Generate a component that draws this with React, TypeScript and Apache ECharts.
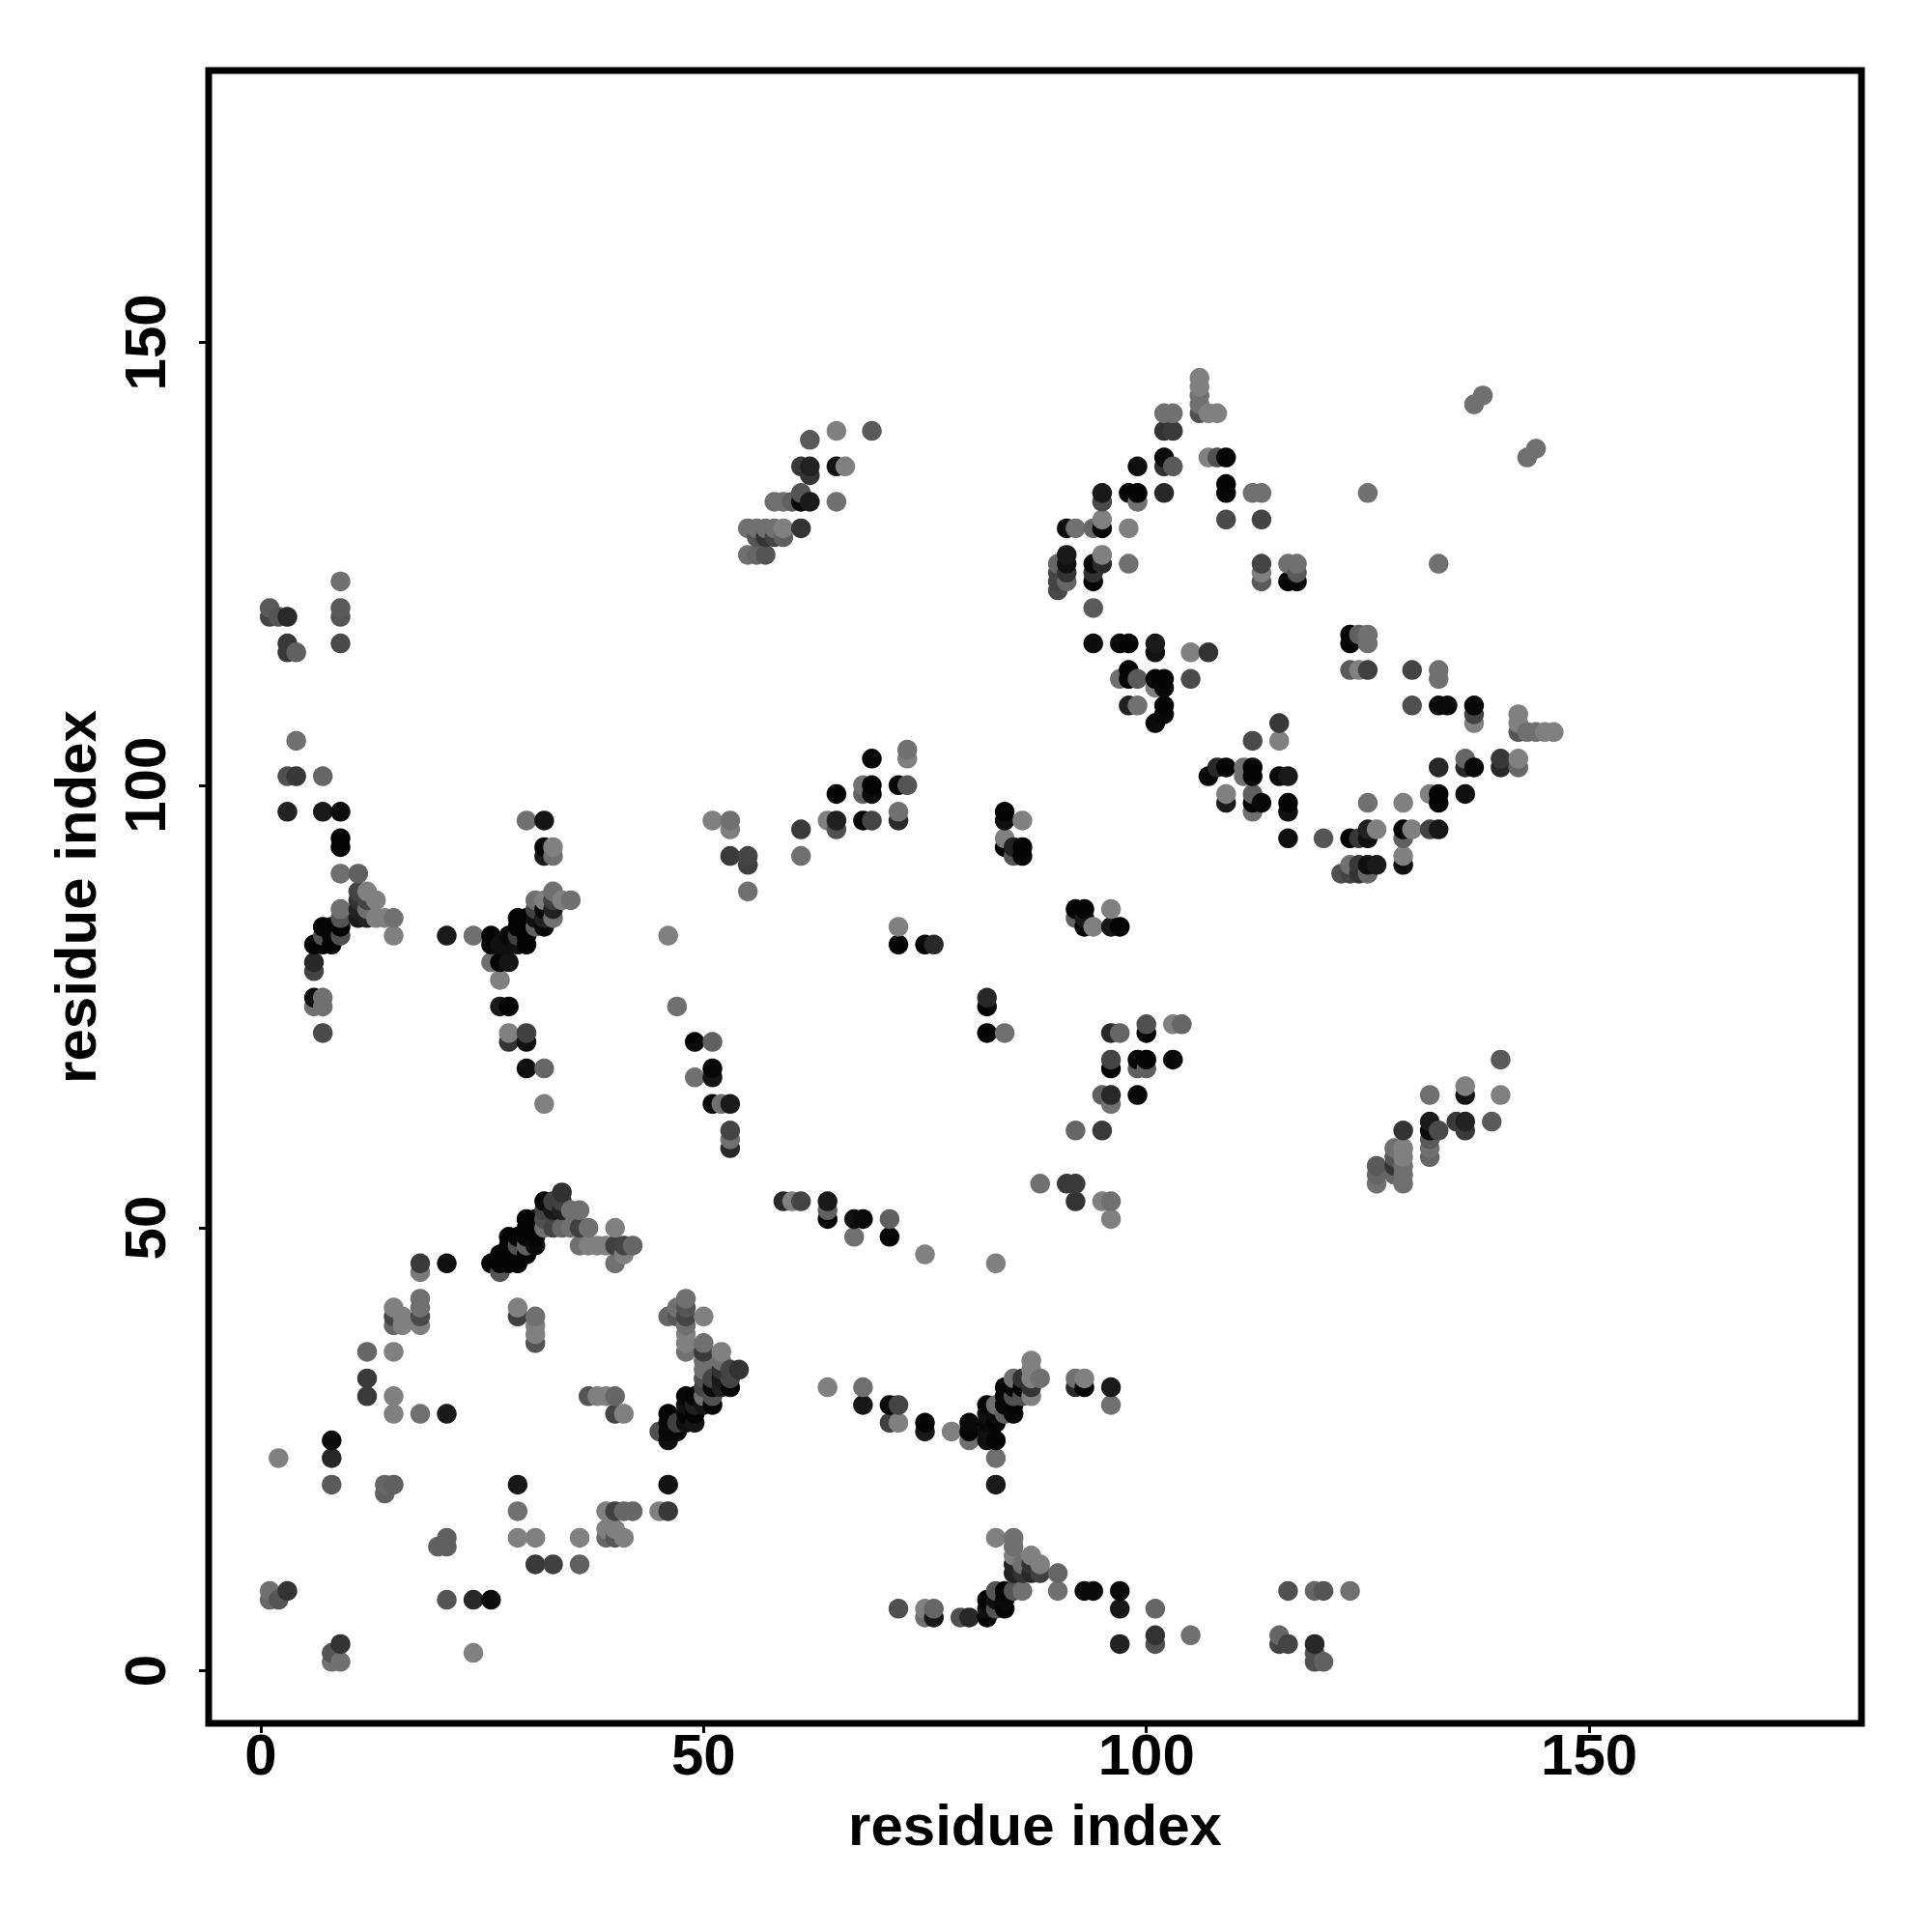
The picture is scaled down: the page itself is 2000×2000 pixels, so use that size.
import React, { useEffect, useRef } from "react";
import * as echarts from "echarts";

type P = [number, number, number];

const xTicks = [0, 50, 100, 150];
const yTicks = [0, 50, 100, 150];
const xTitle = "residue index";
const yTitle = "residue index";

const lowerLeft: P[] = [
  [9,3,0x33],[8,2,0x55],[8,1,0x70],[9,1,0x70],[24,2,0x80],[1,9,0x70],[1,8,0x66],[2,8,0x55],[3,9,0x33],
  [21,8,0x55],[24,8,0x28],[26,8,0x0c],[21,15,0x60],[20,14,0x60],[21,14,0x60],[29,15,0x80],[31,15,0x80],[36,15,0x80],
  [31,12,0x3a],[33,12,0x40],[36,12,0x60],[29,18,0x70],[29,21,0x18],[39,16,0x80],[40,16,0x80],[39,15,0x66],[40,15,0x55],[41,15,0x80],
  [39,18,0x80],[40,18,0x40],[41,18,0x66],[42,18,0x66],[45,18,0x80],[46,18,0x38],[46,21,0x12],[8,26,0x0c],[8,24,0x28],[8,21,0x5a],[2,24,0x80],
  [14,21,0x66],[15,21,0x60],[14,20,0x60],[12,36,0x66],[15,36,0x80],[12,33,0x3a],[12,31,0x3a],[15,31,0x80],[15,29,0x80],[18,29,0x70],[21,29,0x1a],
  [15,41,0x80],[15,40,0x44],[15,39,0x66],[16,40,0x80],[16,39,0x80],[18,42,0x70],[18,41,0x70],[18,40,0x4a],[18,39,0x80],[18,45,0x7a],[18,46,0x3a],[21,46,0x10],
  [29,41,0x80],[29,40,0x40],[31,40,0x70],[31,39,0x80],[31,38,0x80],[31,37,0x55],[27,45,0x55],
  [37,31,0x55],[38,31,0x80],[39,31,0x80],[40,31,0x66],[40,29,0x44],[41,29,0x80],[40,46,0x70],[41,47,0x80],
];

const diagonalA: P[] = [
  [45,27,0x50],[46,29,0x05],[46,28,0x08],[46,27,0x08],[46,26,0x10],[47,28,0x40],[47,27,0x08],[48,31,0x08],[48,30,0x10],[48,29,0x05],[48,28,0x10],
  [49,31,0x05],[49,30,0x20],[49,29,0x05],[49,28,0x15],[50,32,0x44],[50,31,0x70],[50,30,0x15],[51,33,0x44],[51,32,0x0a],[51,31,0x50],[51,30,0x05],
  [52,34,0x33],[52,33,0x18],[52,32,0x20],[53,34,0x44],[53,33,0x44],[53,32,0x05],[54,34,0x33],
  [46,40,0x66],[47,41,0x70],[47,40,0x55],[48,42,0x70],[48,41,0x55],[48,40,0x44],[48,39,0x70],[48,38,0x80],[48,37,0x80],[48,36,0x70],[50,40,0x80],
  [50,37,0x70],[50,36,0x3a],[50,35,0x70],[50,34,0x70],[50,33,0x50],[52,36,0x80],[52,35,0x70],
];

const lowerMiddle: P[] = [
  [88,55,0x70],[91,55,0x3a],[92,55,0x3a],[92,53,0x33],[95,53,0x80],[96,53,0x70],[96,51,0x80],
  [59,53,0x28],[60,53,0x80],[61,53,0x44],[64,53,0x1a],[64,52,0x60],[64,51,0x05],[67,51,0x10],[68,51,0x0a],[71,51,0x60],[67,49,0x70],[71,49,0x05],[75,47,0x80],[83,46,0x80],
  [64,32,0x80],[68,32,0x70],[68,30,0x18],[71,30,0x0a],[72,30,0x44],[71,28,0x40],[72,28,0x80],[75,28,0x05],[75,27,0x1a],[78,27,0x80],[80,28,0x0a],[80,27,0x05],[80,26,0x70],
  [82,30,0x05],[82,29,0x10],[82,28,0x0a],[82,27,0x10],[82,26,0x10],[83,26,0x05],[83,28,0x05],[83,30,0x70],[83,29,0x0a],[84,32,0x08],[84,31,0x08],[84,30,0x08],[84,29,0x60],
  [85,29,0x0a],[85,30,0x05],[85,31,0x50],[85,32,0x08],[85,33,0x70],[86,33,0x33],[86,32,0x05],[86,31,0x50],[87,35,0x80],[87,34,0x80],[87,33,0x80],[87,32,0x33],[87,31,0x80],[88,33,0x70],
  [92,33,0x70],[93,33,0x80],[92,32,0x28],[93,32,0x05],[96,32,0x1a],[96,30,0x70],[83,24,0x70],[83,21,0x1a],
  [83,15,0x80],[85,15,0x70],[85,14,0x70],[85,13,0x80],[85,12,0x22],[85,11,0x20],[86,12,0x70],[86,11,0x33],[87,13,0x80],[87,12,0x33],[87,11,0x28],[88,12,0x80],[88,11,0x40],[90,11,0x66],[90,9,0x70],
  [86,9,0x70],[85,9,0x55],[84,9,0x05],[83,9,0x55],[82,8,0x05],[83,8,0x10],[84,8,0x0a],[84,7,0x05],[83,7,0x55],[82,7,0x10],[82,6,0x05],[80,6,0x28],[79,6,0x50],
  [76,7,0x66],[75,7,0x80],[75,6,0x70],[76,6,0x18],[72,7,0x50],[93,9,0x0a],[94,9,0x0a],
];

const lowerRight: P[] = [
  [97,9,0x0a],[97,7,0x18],[101,7,0x66],[97,3,0x22],[101,4,0x33],[101,3,0x50],[105,4,0x70],[116,9,0x50],[119,9,0x66],[120,9,0x55],[123,9,0x70],
  [115,4,0x66],[115,3,0x44],[116,3,0x44],[119,3,0x28],[119,2,0x50],[119,1,0x50],[120,1,0x60],
];

const leftBand: P[] = [
  [9,94,0x05],[9,93,0x05],[9,90,0x70],[11,90,0x60],[11,88,0x44],[12,88,0x80],[13,87,0x80],[11,87,0x33],[12,87,0x44],[11,86,0x22],[12,86,0x70],[9,86,0x70],[9,85,0x55],[11,85,0x1a],[12,85,0x22],[13,85,0x80],[14,85,0x80],[15,85,0x70],[15,83,0x80],
  [9,84,0x05],[8,84,0x05],[7,84,0x05],[7,83,0x50],[8,83,0x05],[9,83,0x50],[6,82,0x05],[7,82,0x05],[8,82,0x05],[6,80,0x28],[6,79,0x44],[6,76,0x10],[7,76,0x70],[6,75,0x70],[7,75,0x70],[7,72,0x4a],
  [21,83,0x1a],[24,83,0x70],[26,83,0x05],[26,82,0x08],[27,82,0x10],[28,83,0x08],[28,82,0x10],[29,83,0x40],[29,82,0x10],[30,82,0x05],[29,85,0x05],[30,85,0x05],[29,84,0x05],[30,84,0x05],[30,83,0x05],
  [26,80,0x70],[27,80,0x05],[28,80,0x15],[27,78,0x80],[27,75,0x1a],[28,75,0x05],[28,72,0x80],[28,71,0x33],[30,72,0x40],[30,71,0x10],[30,68,0x10],[32,68,0x66],[32,64,0x80],[46,83,0x80],[47,75,0x70],
  [31,87,0x70],[32,87,0x80],[33,88,0x70],[34,87,0x80],[35,87,0x70],[33,87,0x40],[33,86,0x22],[33,85,0x70],[31,85,0x10],[32,85,0x20],[32,84,0x08],[31,84,0x60],[32,86,0x08],[31,86,0x44],
  [32,92,0x1a],[33,92,0x70],[32,93,0x08],[33,93,0x80],[30,96,0x70],[32,96,0x15],
];

const arcTop: P[] = [
  [34,54,0x30],[32,53,0x08],[33,53,0x40],[34,53,0x40],[35,52,0x70],[36,52,0x70],[30,51,0x05],[31,51,0x05],[32,51,0x50],[33,52,0x18],[34,52,0x20],[32,52,0x44],
  [33,50,0x44],[34,50,0x66],[35,50,0x70],[36,50,0x40],[37,50,0x70],[40,50,0x80],[32,50,0x70],[31,50,0x05],[30,50,0x05],[28,49,0x05],[29,49,0x05],[30,49,0x08],[31,49,0x05],
  [36,48,0x70],[37,48,0x80],[38,48,0x80],[39,48,0x80],[40,48,0x40],[41,48,0x44],[42,48,0x66],[28,48,0x05],[29,48,0x50],[30,48,0x60],[31,48,0x0a],
  [27,47,0x05],[28,47,0x05],[29,47,0x05],[30,47,0x05],[26,46,0x05],[27,46,0x05],[28,46,0x05],[29,46,0x05],
];

const centerBlock: P[] = [
  [69,103,0x08],[73,104,0x70],[73,103,0x80],[68,100,0x70],[69,100,0x05],[68,99,0x60],[69,99,0x0a],[65,99,0x05],[72,100,0x05],[73,100,0x55],
  [64,96,0x80],[65,96,0x20],[65,95,0x50],[61,95,0x3a],[61,92,0x70],[68,96,0x05],[69,96,0x44],[72,97,0x70],[72,96,0x2a],
  [51,96,0x80],[53,96,0x70],[53,95,0x80],[53,92,0x3a],[55,92,0x44],[55,91,0x40],[55,88,0x70],[72,84,0x80],[72,82,0x05],[75,82,0x08],[76,82,0x28],
  [49,71,0x05],[51,71,0x60],[51,68,0x08],[51,67,0x15],[49,67,0x70],[51,64,0x0a],[52,64,0x70],[53,64,0x1a],[53,61,0x44],[53,60,0x70],[53,59,0x28],
  [84,97,0x05],[84,96,0x10],[86,96,0x80],[84,94,0x80],[84,93,0x05],[85,93,0x22],[86,93,0x05],[86,92,0x05],[85,92,0x55],[82,76,0x28],[82,75,0x05],[82,72,0x05],[84,72,0x70],
  [92,86,0x05],[93,86,0x05],[92,85,0x60],[93,85,0x1a],[93,84,0x05],[94,84,0x80],[96,86,0x80],[96,84,0x18],[97,84,0x05],
  [96,72,0x28],[97,72,0x66],[100,73,0x50],[100,72,0x05],[103,73,0x80],[104,73,0x66],[96,69,0x44],[96,68,0x05],[99,69,0x08],[100,69,0x05],[99,68,0x60],[100,68,0x60],[103,69,0x08],
  [95,65,0x60],[96,65,0x28],[96,64,0x70],[99,65,0x08],[92,61,0x66],[95,61,0x3a],
];

const rightRing: P[] = [
  [107,101,0x08],[108,102,0x28],[109,102,0x05],[109,99,0x80],[109,98,0x1a],[111,102,0x70],[111,101,0x70],[112,102,0x05],[112,101,0x05],[112,99,0x60],[112,98,0x05],[113,98,0x08],[112,97,0x70],
  [112,105,0x4a],[115,107,0x38],[115,105,0x80],[115,101,0x0a],[116,101,0x1a],[116,98,0x05],[116,97,0x10],[116,94,0x10],[120,94,0x55],[123,94,0x05],[124,94,0x38],[125,94,0x10],[125,95,0x20],[126,95,0x80],[125,98,0x70],
  [129,98,0x80],[129,95,0x05],[130,95,0x80],[129,94,0x60],[129,92,0x80],[129,91,0x10],[132,99,0x80],[133,99,0x05],[133,98,0x05],[133,102,0x28],[136,99,0x0f],[132,95,0x44],[133,95,0x18],
  [136,103,0x66],[136,102,0x28],[137,102,0x0a],[140,103,0x38],[140,102,0x28],[142,103,0x80],[142,102,0x66],[142,108,0x80],[142,107,0x80],[142,106,0x55],[143,106,0x70],[144,106,0x70],[145,106,0x80],[146,106,0x80],
  [130,109,0x50],[133,109,0x0a],[134,109,0x0a],[137,109,0x08],[137,108,0x44],[137,107,0x80],[122,90,0x50],[123,90,0x44],[123,91,0x70],[124,90,0x33],[124,91,0x38],[125,90,0x66],[125,91,0x10],[126,91,0x1a],
];

const upperRight: P[] = [
  [106,146,0x80],[106,145,0x80],[106,144,0x70],[106,143,0x70],[106,142,0x50],[107,142,0x80],[108,142,0x80],[102,142,0x70],[103,142,0x70],[102,140,0x33],[103,140,0x3a],
  [102,137,0x0c],[102,136,0x33],[103,136,0x5a],[99,136,0x0f],[107,137,0x80],[108,137,0x50],[109,137,0x05],[109,134,0x05],[109,133,0x08],[109,130,0x4a],
  [95,133,0x1a],[95,132,0x4a],[98,133,0x05],[99,133,0x05],[99,132,0x70],[102,133,0x28],[112,133,0x70],[113,133,0x70],[113,130,0x44],
  [91,129,0x10],[92,129,0x70],[94,129,0x66],[95,130,0x80],[95,129,0x05],[98,129,0x80],[125,133,0x70],[138,144,0x70],[137,143,0x70],[144,138,0x70],[143,137,0x70],
  [91,126,0x1a],[91,125,0x12],[91,124,0x33],[91,123,0x66],[90,125,0x66],[90,124,0x44],[90,123,0x44],[90,122,0x4a],[94,125,0x0a],[95,126,0x80],[95,125,0x2a],[94,124,0x33],[94,123,0x05],[98,125,0x70],[94,120,0x5a],
  [113,125,0x44],[113,124,0x80],[113,123,0x5a],[116,125,0x70],[117,125,0x70],[117,124,0x5a],[116,123,0x05],[117,123,0x08],[133,125,0x70],
  [94,116,0x0c],[97,116,0x0a],[98,116,0x05],[101,116,0x1a],[101,115,0x12],[105,115,0x80],[107,115,0x33],[98,113,0x05],[97,112,0x70],[98,112,0x05],[99,112,0x5a],[101,112,0x05],[102,112,0x05],[105,112,0x4a],
  [101,111,0x80],[102,111,0x0a],[102,109,0x05],[102,108,0x08],[101,107,0x0a],[98,109,0x22],[99,109,0x70],
  [123,117,0x08],[124,117,0x60],[125,117,0x70],[123,116,0x05],[125,116,0x70],[123,113,0x5a],[124,113,0x80],[125,113,0x40],[130,113,0x44],[133,113,0x70],[133,112,0x70],
];

const rightPatch: P[] = [
  [140,69,0x5a],[140,65,0x80],[136,66,0x80],[136,65,0x15],[132,65,0x70],[132,62,0x1a],[132,61,0x0a],[133,61,0x4a],[135,62,0x3a],[136,62,0x22],[136,61,0x3a],[139,62,0x5a],[132,60,0x5a],[132,59,0x70],[132,58,0x66],
  [129,61,0x33],[129,59,0x80],[129,58,0x80],[129,57,0x70],[129,56,0x70],[129,55,0x70],[128,59,0x70],[128,58,0x55],[128,57,0x33],[128,56,0x66],[126,57,0x5a],[126,56,0x66],[126,55,0x70],
];

const upperMiddle: P[] = [
  [62,139,0x5a],[65,140,0x80],[69,140,0x5a],[61,136,0x3a],[62,136,0x22],[62,135,0x33],[65,136,0x12],[66,136,0x80],[61,133,0x55],[61,132,0x0a],[62,132,0x1a],[65,132,0x70],[58,132,0x70],[59,132,0x70],[60,132,0x60],
  [61,129,0x33],[55,129,0x70],[56,129,0x70],[57,129,0x70],[58,129,0x70],[59,129,0x80],[56,128,0x55],[57,128,0x33],[58,128,0x44],[59,128,0x60],[55,126,0x70],[56,126,0x66],[57,126,0x55],
];

const upperLeft: P[] = [
  [9,123,0x70],[9,120,0x5a],[9,119,0x55],[9,116,0x4a],[1,120,0x5a],[1,119,0x44],[2,119,0x55],[3,119,0x2a],[3,116,0x38],[3,115,0x38],[4,115,0x60],
  [4,105,0x70],[3,101,0x50],[4,101,0x38],[7,101,0x66],[3,97,0x22],[7,97,0x1a],[9,97,0x0c],
];

const allPoints: P[] = [
  ...lowerLeft, ...diagonalA, ...lowerMiddle, ...lowerRight, ...leftBand, ...arcTop,
  ...centerBlock, ...rightRing, ...upperRight, ...rightPatch, ...upperMiddle, ...upperLeft,
].sort((a, b) => a[0] - b[0] || a[1] - b[1]);

const FONT = "Liberation Sans";

export default function App() {
  const ref = useRef<HTMLDivElement>(null);
  useEffect(() => {
    const chart = echarts.init(ref.current!, null, { renderer: "svg" });
    const axisCommon = {
      type: "value",
      min: -5.89,
      max: 180.75,
      splitLine: { show: false },
      axisLine: { show: false, onZero: false },
      nameLocation: "middle",
      nameTextStyle: { fontFamily: FONT, fontWeight: "bold", fontSize: 60, color: "#000" },
    };
    chart.setOption({
      animation: false,
      backgroundColor: "#fff",
      grid: {
        left: 216, right: 73, top: 73, bottom: 216,
        show: true, borderColor: "#000", borderWidth: 7, backgroundColor: "transparent", z: 5,
      },
      xAxis: {
        ...axisCommon,
        name: xTitle,
        nameGap: 75,
        axisTick: { show: true, length: 10, customValues: xTicks, lineStyle: { width: 3, color: "#000" } },
        axisLabel: { show: true, customValues: xTicks, margin: 2, fontFamily: FONT, fontWeight: "bold", fontSize: 60, color: "#000", hideOverlap: false, showMinLabel: true, showMaxLabel: true },
      },
      yAxis: {
        ...axisCommon,
        min: -5.95,
        max: 180.7,
        name: yTitle,
        nameGap: 108,
        axisTick: { show: true, length: 10, customValues: yTicks, lineStyle: { width: 3, color: "#000" } },
        axisLabel: { show: true, customValues: yTicks, rotate: 90, margin: 66, fontFamily: FONT, fontWeight: "bold", fontSize: 60, color: "#000", hideOverlap: false, align: "center", verticalAlign: "middle" },
      },
      series: [
        {
          type: "scatter",
          symbol: "circle",
          symbolSize: 20.5,
          large: false,
          clip: false,
          data: allPoints,
          encode: { x: 0, y: 1 },
          itemStyle: {
            opacity: 1,
            color: (p: any) => {
              const g = p.data[2];
              return `rgb(${g},${g},${g})`;
            },
          },
        },
      ],
    });
    return () => chart.dispose();
  }, []);
  return <div ref={ref} style={{ position: "absolute", left: 0, top: 0, width: 2000, height: 2000 }} />;
}
